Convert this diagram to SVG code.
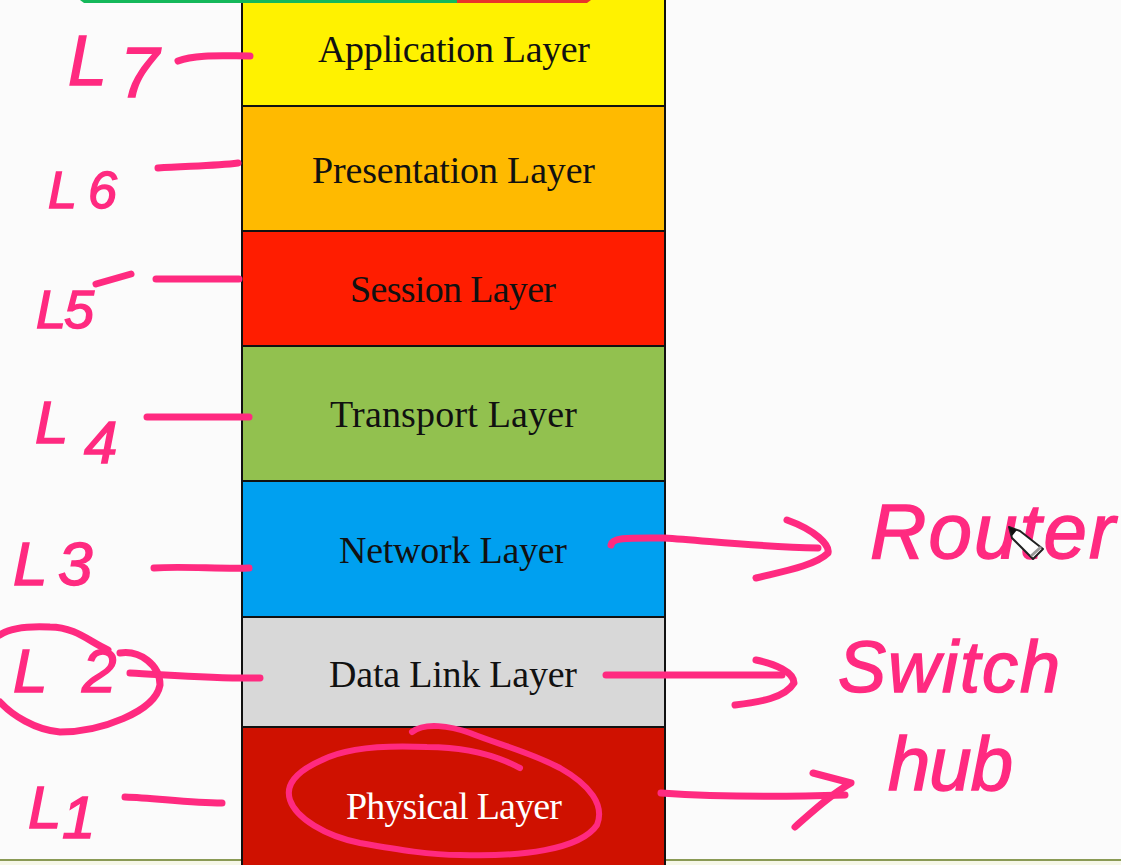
<svg xmlns="http://www.w3.org/2000/svg" width="1121" height="865" viewBox="0 0 1121 865">
<style>
.box{stroke:#111;stroke-width:2}
.lbl{font-family:"Liberation Serif","Times New Roman",serif;font-size:38px;fill:#111}
.ink{fill:none;stroke:#ff2a80;stroke-width:7;stroke-linecap:round;stroke-linejoin:round}
.hand{font-family:"Liberation Sans",Arial,sans-serif;font-style:italic;fill:#ff2a80;stroke:#ff2a80;stroke-width:1.5}
</style>
<rect width="1121" height="865" fill="#fbfbfb"/>
<rect x="0" y="859" width="1121" height="2" fill="#8a9a55"/>
<rect x="0" y="861" width="1121" height="4" fill="#f6f7e8"/>
<g id="application-layer"><rect class="box" x="242" y="-4" width="423" height="110" fill="#fff200"/><text class="lbl" x="318" y="62" textLength="272">Application Layer</text></g>
<g id="presentation-layer"><rect class="box" x="242" y="106" width="423" height="125" fill="#ffba00"/><text class="lbl" x="312" y="183" textLength="283">Presentation Layer</text></g>
<g id="session-layer"><rect class="box" x="242" y="231" width="423" height="115" fill="#ff1d00"/><text class="lbl" x="350" y="302" textLength="206">Session Layer</text></g>
<g id="transport-layer"><rect class="box" x="242" y="346" width="423" height="135" fill="#92c14f"/><text class="lbl" x="330" y="427" textLength="247">Transport Layer</text></g>
<g id="network-layer"><rect class="box" x="242" y="481" width="423" height="136" fill="#00a0f0"/><text class="lbl" x="339" y="563" textLength="228">Network Layer</text></g>
<g id="data-link-layer"><rect class="box" x="242" y="617" width="423" height="110" fill="#d8d8d8"/><text class="lbl" x="329" y="687" textLength="248">Data Link Layer</text></g>
<g id="physical-layer"><rect class="box" x="242" y="727" width="423" height="142" fill="#cf1100"/><text class="lbl" x="346" y="819" textLength="216" style="fill:#fff">Physical Layer</text></g>
<g id="top-bar">
<path d="M80 0H457V3H84Z" fill="#14b85a"/>
<path d="M457 0H591L587 3H457Z" fill="#e8352a"/>
</g>
<g id="level-labels">
<text class="hand" x="68 120" y="85 97" font-size="70">L7</text>
<text class="hand" x="48 88" y="208" font-size="52">L6</text>
<text class="hand" x="36 64" y="328" font-size="54">L5</text>
<text class="hand" x="35 84" y="443 463" font-size="60">L4</text>
<text class="hand" x="13 58" y="585" font-size="62">L3</text>
<text class="hand" x="13 82" y="692" font-size="62">L2</text>
<text class="hand" x="28 62" y="828 838" font-size="60">L1</text>
</g>
<g id="device-labels">
<text class="hand" x="870" y="558" font-size="78" textLength="245">Router</text>
<text class="hand" x="838" y="692" font-size="72" textLength="222">Switch</text>
<text class="hand" x="888" y="790" font-size="76" textLength="125">hub</text>
</g>
<g id="connectors" class="ink">
<path d="M178 61C195 54 225 56 250 56"/>
<path d="M158 168C185 166 215 166 238 163"/>
<path d="M96 284L131 274"/>
<path d="M156 279H239"/>
<path d="M147 417H249"/>
<path d="M154 568C180 566 220 569 249 568"/>
<path d="M130 673C170 675 220 679 260 678"/>
<path d="M125 797C155 798 190 803 222 803"/>
<path d="M108 650C90 642 75 627 50 627C30 626 10 628 0 635"/>
<path d="M120 653C140 650 160 665 160 685C155 712 100 732 60 732C35 730 12 715 0 702"/>
<path d="M611 545C612 537 630 538 664 538C710 541 760 547 818 548"/>
<path d="M787 520C815 530 830 545 828 553C815 566 780 572 756 578"/>
<path d="M606 675H782"/>
<path d="M756 660C775 664 794 672 794 683C785 698 760 702 735 705"/>
<path d="M661 793C720 797 780 797 845 795"/>
<path d="M813 773L851 783C830 795 812 812 795 827"/>
<path d="M520 768C490 752 460 747 427 747C385 745 345 748 322 760C295 772 285 785 290 800C296 818 325 836 360 843C400 850 430 855 460 855C520 857 580 850 597 825C605 805 590 785 560 768C530 752 500 745 470 733C450 726 425 722 412 732" stroke-width="6"/>
</g>
<g id="pencil-cursor">
<path d="M1009 527L1020 531L1043 549L1033 559L1012 538Z" fill="#fff" stroke="#222" stroke-width="2" stroke-linejoin="round"/>
<path d="M1009 527L1017 530L1012 536Z" fill="#111"/>
<path d="M1031 556L1041 547" stroke="#999" stroke-width="3"/>
</g>
</svg>
